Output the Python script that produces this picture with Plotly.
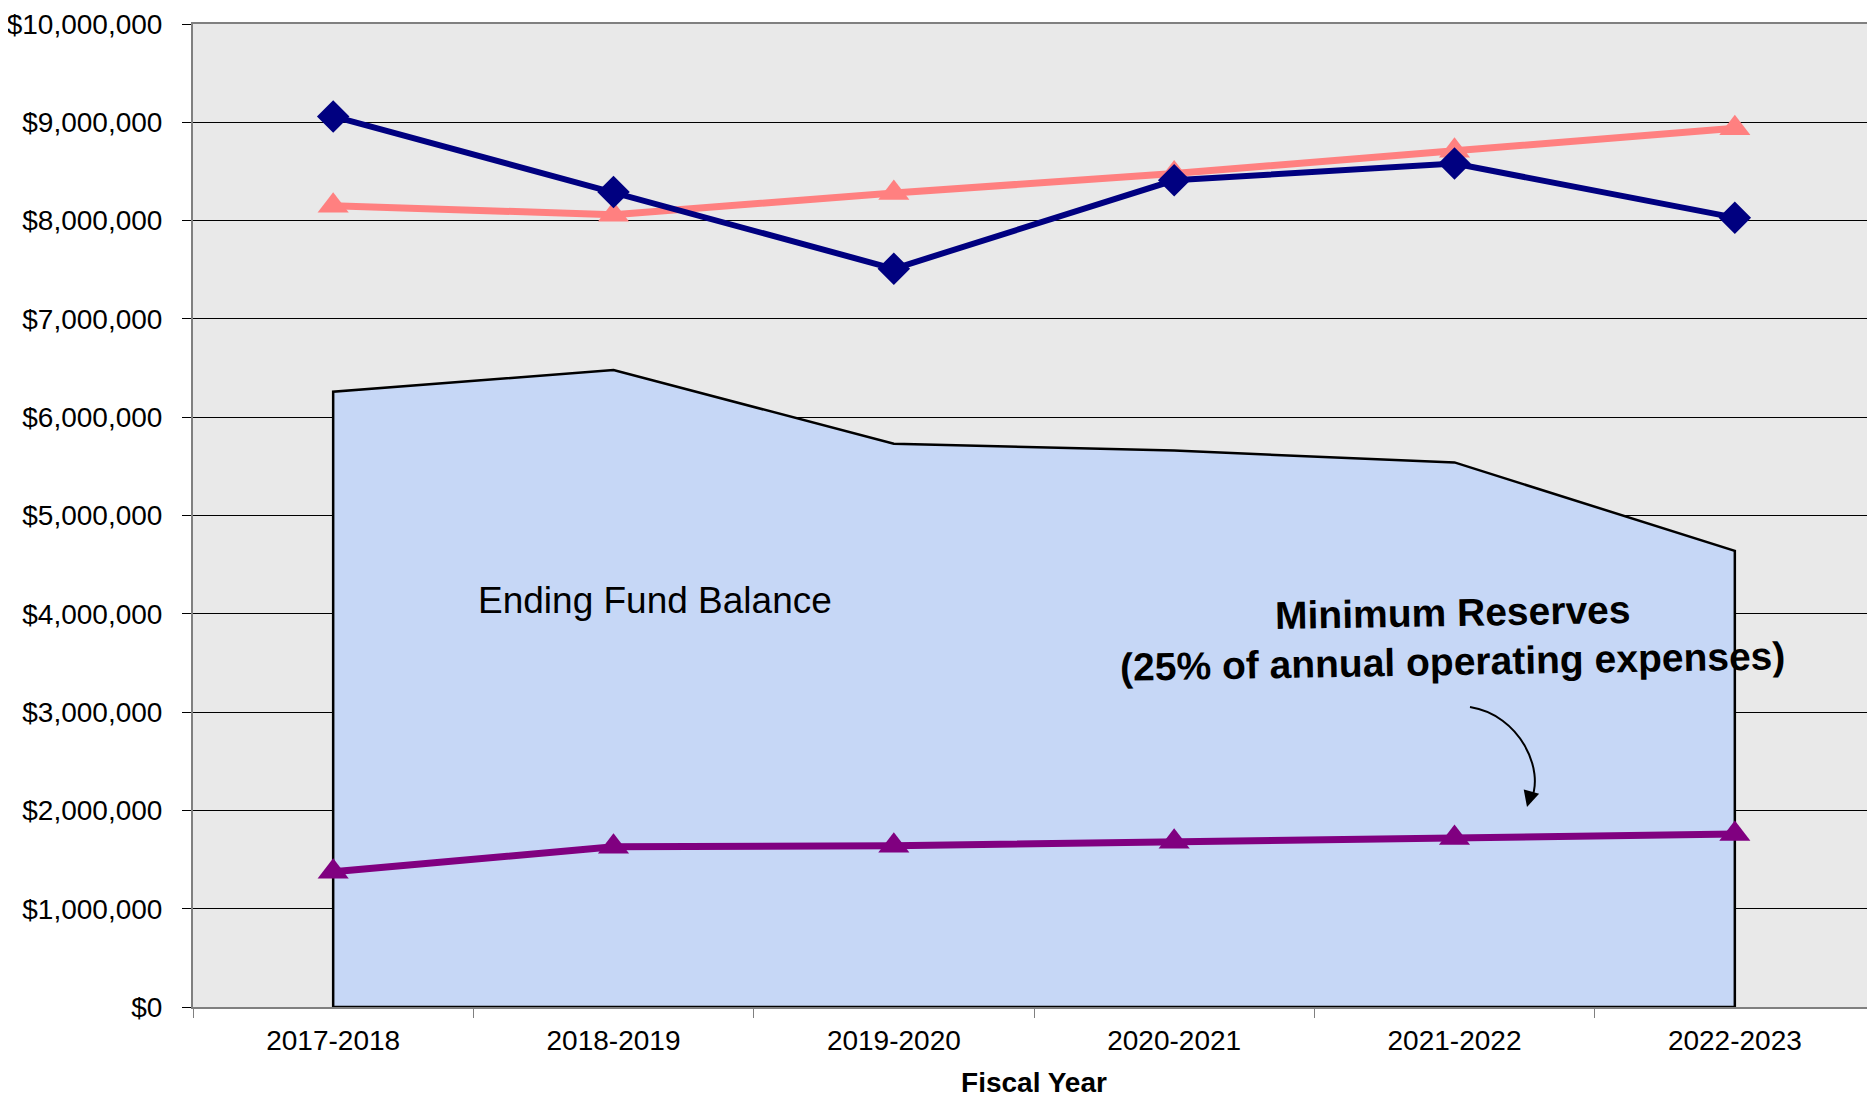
import plotly.graph_objects as go

years = ["2017-2018", "2018-2019", "2019-2020", "2020-2021", "2021-2022", "2022-2023"]
revenues = [9060000, 8290000, 7510000, 8410000, 8580000, 8030000]
expenses = [8150000, 8060000, 8280000, 8480000, 8710000, 8940000]
fund_balance = [6260000, 6480000, 5730000, 5660000, 5540000, 4640000]
min_reserves = [1375000, 1630000, 1640000, 1680000, 1720000, 1760000]

# page has an 8px body margin, so the figure is shifted by that much
OFF = 8
W, H = 1875 - OFF, 1102 - OFF
L, R, T, B = 193 - OFF, 0, 24 - OFF, 95
PW, PH = W - L - R, H - T - B


def px(x, y):
    """pixel on page -> paper coords"""
    return (x - OFF - L) / PW, (OFF + H - B - y) / PH


fig = go.Figure()

# ending fund balance area (closed polygon so the edges get the black outline)
fig.add_trace(go.Scatter(
    x=[years[0]] + years + [years[-1], years[0]],
    y=[0] + fund_balance + [0, 0],
    mode="lines",
    fill="toself",
    fillcolor="#c6d7f6",
    line=dict(color="black", width=2.5),
    hoverinfo="skip",
    showlegend=False,
))

fig.add_trace(go.Scatter(
    x=years, y=min_reserves, mode="lines+markers",
    line=dict(color="#800080", width=7),
    marker=dict(symbol="triangle-up", size=27, color="#800080"),
    showlegend=False,
))
fig.add_trace(go.Scatter(
    x=years, y=expenses, mode="lines+markers",
    line=dict(color="#ff8080", width=7),
    marker=dict(symbol="triangle-up", size=27, color="#ff8080"),
    showlegend=False,
))
fig.add_trace(go.Scatter(
    x=years, y=revenues, mode="lines+markers",
    line=dict(color="#000080", width=6),
    marker=dict(symbol="diamond", size=25, color="#000080"),
    showlegend=False,
))

ex, ey = px(655, 600)
fig.add_annotation(x=ex, y=ey, xref="paper", yref="paper", text="Ending Fund Balance",
                   xanchor="center", yanchor="middle",
                   showarrow=False, font=dict(size=37, color="black"))
for txt, (ax_, ay_) in [("<b>Minimum Reserves</b>", (1452, 612)),
                        ("<b>(25% of annual operating expenses)</b>", (1452, 662))]:
    x_, y_ = px(ax_, ay_)
    fig.add_annotation(x=x_, y=y_, xref="paper", yref="paper", text=txt,
                       xanchor="center", yanchor="middle", borderpad=0,
                       showarrow=False, textangle=-1, font=dict(size=39, color="black"))

# curved arrow
p0, p1, p2, p3 = px(1470, 707), px(1520, 715), px(1545, 770), px(1531, 800)
fig.add_shape(type="path", xref="paper", yref="paper",
              path=f"M {p0[0]},{p0[1]} C {p1[0]},{p1[1]} {p2[0]},{p2[1]} {p3[0]},{p3[1]}",
              line=dict(color="black", width=2))
tx, ty = px(1527, 807)
fig.add_annotation(x=tx, y=ty, xref="paper", yref="paper", text="", showarrow=True,
                   ax=4, ay=-14, arrowhead=2, arrowsize=1.6, arrowwidth=2, arrowcolor="black")

fig.update_xaxes(
    type="category", range=[-0.5, len(years) - 0.5],
    showline=True, linecolor="#808080", linewidth=2, mirror=True,
    ticks="outside", tickson="boundaries", ticklen=9, tickcolor="#808080",
    tickfont=dict(size=28, color="black"), ticklabelstandoff=7,
    title=dict(text="<b>Fiscal Year</b>", font=dict(size=28, color="black"), standoff=18),
    showgrid=False, automargin=False,
)
fig.update_yaxes(
    range=[0, 10000000], dtick=1000000,
    tickprefix="$", tickformat=",.0f",
    showline=True, linecolor="#808080", linewidth=2,
    ticks="outside", ticklen=9, tickcolor="black",
    tickfont=dict(size=28, color="black"), ticklabelstandoff=14,
    ticklabeloverflow="allow", automargin=False,
    showgrid=True, gridcolor="black", gridwidth=1,
    zeroline=False,
)
fig.update_layout(
    width=W, height=H,
    margin=dict(l=L, r=R, t=T, b=B),
    paper_bgcolor="white",
    plot_bgcolor="#e9e9e9",
    font=dict(family="Liberation Sans, Arial, sans-serif", color="black"),
)

fig.write_html("out.html")
